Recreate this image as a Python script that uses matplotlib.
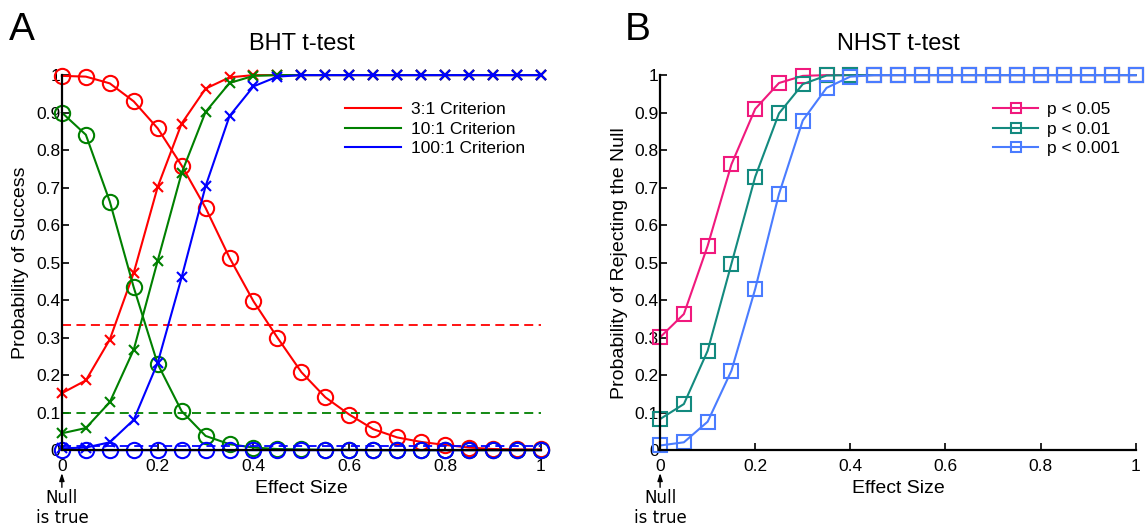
import numpy as np
import matplotlib
matplotlib.use("Agg")
import matplotlib.pyplot as plt

plt.rcParams['font.family'] = ['Liberation Sans', 'DejaVu Sans']

# effect sizes 0:0.05:1
effect = np.round(np.arange(0, 1.0001, 0.05), 2)

# BHT t-test: success when alternative is true (x) / null is true (o)
alt_3 = [0.152, 0.186, 0.295, 0.473, 0.702, 0.871, 0.964, 0.994, 1.0, 1.0, 1.0,
         1.0, 1.0, 1.0, 1.0, 1.0, 1.0, 1.0, 1.0, 1.0, 1.0]
null_3 = [0.998, 0.996, 0.978, 0.930, 0.858, 0.759, 0.646, 0.513, 0.397, 0.300, 0.208,
          0.141, 0.095, 0.056, 0.034, 0.022, 0.014, 0.007, 0.003, 0.002, 0.002]
alt_10 = [0.045, 0.059, 0.128, 0.268, 0.505, 0.739, 0.902, 0.979, 0.998, 1.0, 1.0,
          1.0, 1.0, 1.0, 1.0, 1.0, 1.0, 1.0, 1.0, 1.0, 1.0]
null_10 = [0.900, 0.841, 0.663, 0.434, 0.230, 0.104, 0.038, 0.016, 0.007, 0.003, 0.002,
           0.001, 0.001, 0.0, 0.0, 0.0, 0.0, 0.0, 0.0, 0.0, 0.0]
alt_100 = [0.005, 0.007, 0.021, 0.081, 0.233, 0.461, 0.704, 0.891, 0.970, 0.996, 1.0,
           1.0, 1.0, 1.0, 1.0, 1.0, 1.0, 1.0, 1.0, 1.0, 1.0]
null_100 = [0.001, 0.0, 0.0, 0.0, 0.0, 0.0, 0.0, 0.0, 0.0, 0.0, 0.0,
            0.0, 0.0, 0.0, 0.0, 0.0, 0.0, 0.0, 0.0, 0.0, 0.0]
criteria = [1/3, 0.1, 0.01]

# NHST t-test: probability of rejecting the null
p05 = [0.301, 0.363, 0.545, 0.762, 0.910, 0.979, 0.998, 1.0, 1.0, 1.0, 1.0,
       1.0, 1.0, 1.0, 1.0, 1.0, 1.0, 1.0, 1.0, 1.0, 1.0]
p01 = [0.083, 0.123, 0.265, 0.497, 0.729, 0.898, 0.976, 0.999, 1.0, 1.0, 1.0,
       1.0, 1.0, 1.0, 1.0, 1.0, 1.0, 1.0, 1.0, 1.0, 1.0]
p001 = [0.0125, 0.021, 0.076, 0.212, 0.430, 0.683, 0.879, 0.966, 0.996, 1.0, 1.0,
        1.0, 1.0, 1.0, 1.0, 1.0, 1.0, 1.0, 1.0, 1.0, 1.0]

xticks = [0, 0.2, 0.4, 0.6, 0.8, 1]
xticklabels = ['0', '0.2', '0.4', '0.6', '0.8', '1']
yticks = np.round(np.arange(0, 1.01, 0.1), 1)
yticklabels = ['0'] + ['%.1f' % v for v in yticks[1:-1]] + ['1']

fig = plt.figure(figsize=(11.46, 5.29), dpi=100)
ax1 = fig.add_axes([0.054, 0.149, 0.418, 0.709])
ax2 = fig.add_axes([0.576, 0.149, 0.415, 0.709])


def style(ax):
    for s in ['top', 'right']:
        ax.spines[s].set_visible(False)
    for s in ['left', 'bottom']:
        ax.spines[s].set_linewidth(1.6)
    ax.set_xlim(0, 1)
    ax.set_ylim(0, 1)
    ax.set_xticks(xticks)
    ax.set_xticklabels(xticklabels)
    ax.set_yticks(yticks)
    ax.set_yticklabels(yticklabels)
    ax.tick_params(direction='in', length=5, width=1.2, labelsize=12.5)
    ax.tick_params(axis='x', pad=6)
    ax.tick_params(axis='y', pad=1)
    ax.set_xlabel('Effect Size', fontsize=14, labelpad=5)
    # "null is true" marker under x = 0
    ax.annotate('', xy=(0, -0.061), xytext=(0, -0.099), xycoords='data',
                arrowprops=dict(arrowstyle='-|>,head_width=0.15,head_length=0.45',
                                color='black', lw=1, shrinkA=0, shrinkB=0),
                annotation_clip=False)
    ax.text(0, -0.104, 'Null\nis true', ha='center', va='top', fontsize=12,
            family='DejaVu Sans', linespacing=1.1, transform=ax.transData,
            clip_on=False)


# panel A
cols = ['red', 'green', 'blue']
labels = ['3:1 Criterion', '10:1 Criterion', '100:1 Criterion']
for alt, nul, c, lab, crit in zip([alt_3, alt_10, alt_100], [null_3, null_10, null_100],
                                  cols, labels, criteria):
    ax1.axhline(crit, color=c, ls='--', lw=1.3, dashes=(5, 3))
    ax1.plot(effect, alt, color=c, lw=1.5, marker='x', ms=7, mew=1.5, clip_on=False, label=lab)
    ax1.plot(effect, nul, color=c, lw=1.5, marker='o', ms=11, mfc='none', mew=1.5, clip_on=False)
style(ax1)
ax1.set_ylabel('Probability of Success', fontsize=14, labelpad=5)
ax1.set_title('BHT t-test', fontsize=17, pad=18)
leg1 = ax1.legend([plt.Line2D([], [], color=c, lw=1.5) for c in cols], labels,
                  loc='upper right', bbox_to_anchor=(1.0, 0.97), frameon=False,
                  fontsize=12.5, handlelength=3.2, handletextpad=0.6, labelspacing=0.25)
fig.text(0.008, 0.925, 'A', fontsize=28)

# panel B
ncols = ['#f0197d', '#138a7f', '#4a7cff']
nlabels = ['p < 0.05', 'p < 0.01', 'p < 0.001']
for vals, c, lab in zip([p05, p01, p001], ncols, nlabels):
    ax2.plot(effect, vals, color=c, lw=1.5, marker='s', ms=9.5, mfc='none', mew=1.5,
             clip_on=False, label=lab)
style(ax2)
ax2.set_ylabel('Probability of Rejecting the Null', fontsize=14, labelpad=5)
ax2.set_title('NHST t-test', fontsize=17, pad=18)
ax2.legend(loc='upper right', bbox_to_anchor=(1.0, 0.97), frameon=False, fontsize=12.5,
           handlelength=2.6, handletextpad=0.5, labelspacing=0.25, markerscale=0.8)
fig.text(0.545, 0.925, 'B', fontsize=28)

fig.savefig('out.png', dpi=100)
